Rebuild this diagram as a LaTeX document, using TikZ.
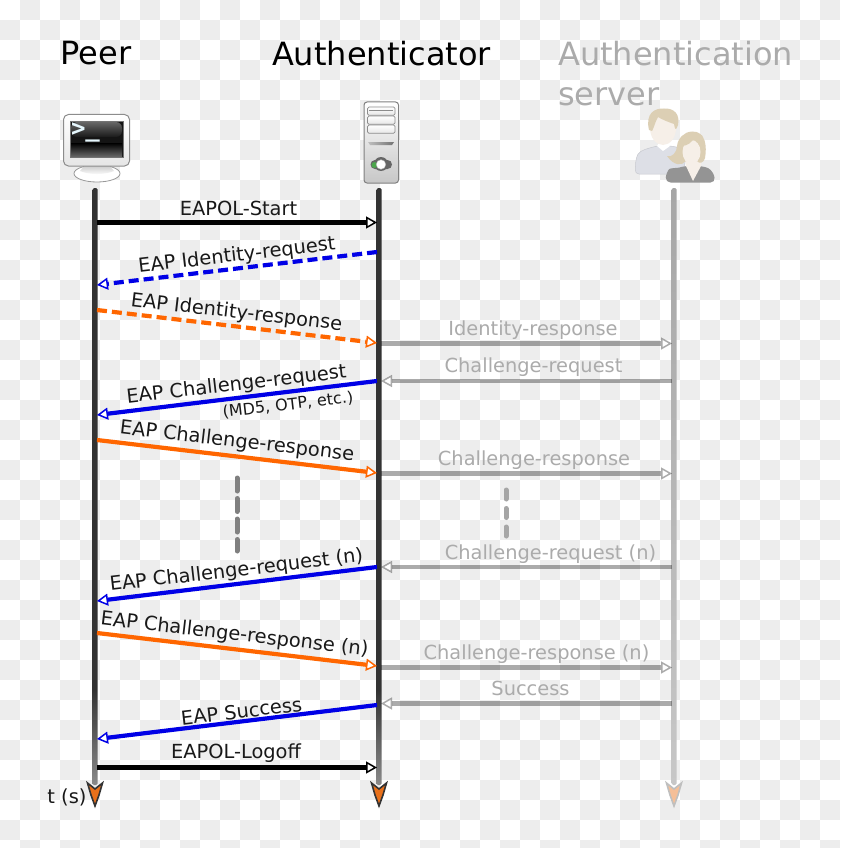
\documentclass[tikz,border=0pt]{standalone}
\usepackage{fontspec}
\setmainfont{DejaVu Sans}
\newfontfamily\termfont{DejaVu Sans Mono Bold}
\usetikzlibrary{arrows.meta,calc}
\definecolor{chk}{HTML}{EDEDED}
\definecolor{lifedark}{HTML}{333333}
\definecolor{lifemid}{HTML}{8A8A8A}
\definecolor{eapblue}{HTML}{0000E6}
\definecolor{eaporange}{HTML}{FF6600}
\definecolor{fadetext}{HTML}{ABABAB}
\definecolor{tipor}{HTML}{E8701A}
\definecolor{hairtan}{HTML}{DCCFB4}
\definecolor{skinpale}{HTML}{F6EFE8}
\definecolor{shirtpale}{HTML}{DDDFE6}
\pgfdeclareverticalshading{lifeline}{100bp}{color(0bp)=(lifemid); color(25bp)=(lifemid); color(33bp)=(lifedark); color(100bp)=(lifedark)}
\tikzset{
  x=1pt,y=-1pt,
  title/.style={font=\fontsize{32}{32}\selectfont,inner sep=0pt,text=black},
  msglabel/.style={font=\fontsize{19.4}{20}\selectfont,inner sep=0pt,text=black!90},
  fadelabel/.style={font=\fontsize{19.4}{20}\selectfont,inner sep=0pt,text=fadetext},
  smalllabel/.style={font=\fontsize{16}{16}\selectfont,inner sep=0pt,text=black!90},
  msg/.style={line width=4.2pt},
  head/.style={-{Triangle[open,fill=white,length=11pt,width=12pt,line width=1.5pt]}},
  blackmsg/.style={msg,head,draw=black},
  bluemsg/.style={msg,head,draw=eapblue},
  orangemsg/.style={msg,head,draw=eaporange},
  bluedash/.style={bluemsg,dash pattern=on 10pt off 5pt},
  orangedash/.style={orangemsg,dash pattern=on 10pt off 5pt},
  fademsg/.style={msg,head,draw=black,draw opacity=.33},
  waitdark/.style={line width=5pt,draw=black!50,line cap=round,dash pattern=on 13pt off 7.5pt},
  waitfade/.style={line width=5pt,draw=black!35,line cap=round,dash pattern=on 9pt off 9.5pt},
  endtip/.style={fill=tipor,draw=lifedark,line width=1.6pt,line join=miter},
}
\begin{document}
\begin{tikzpicture}
\useasboundingbox (0,0) rectangle (840,848);
\clip (0,0) rectangle (840,848);
% background
\fill[white] (0,0) rectangle (840,848);
\foreach \i in {0,...,41}{\foreach \j in {0,...,42}{
  \pgfmathtruncatemacro{\odd}{mod(\i+\j,2)}
  \ifnum\odd=1 \fill[chk] (20*\i,20*\j) rectangle ++(20,20);\fi
}}
% titles
\node[title] (tpeer) at (96,53) {Peer};
\node[title] (tauth) at (381.5,54) {Authenticator};
\node[title,text=fadetext,anchor=base west] (tserv1) at (558,65.5) {Authentication};
\node[title,text=fadetext,anchor=base west] (tserv2) at (558,106) {server};
% lifelines
\foreach \n/\x in {p/95,a/379}{
  \coordinate (\n top) at (\x,188);
  \coordinate (\n end) at (\x,806);
  \shade[shading=lifeline,rounded corners=1.5pt] (\x-2.5,188) rectangle (\x+2.5,785);
  \filldraw[endtip] (\x-7.5,783) -- (\x,789) -- (\x+7.5,783) -- (\x+4,795) -- (\x,806) -- (\x-4,795) -- cycle;
}
\coordinate (stop) at (674,188);
\coordinate (send) at (674,806);
\shade[top color=black!35,bottom color=black!22,rounded corners=1.5pt] (671.5,188) rectangle (676.5,785);
\filldraw[fill=tipor!45,draw=black!25,line width=1.6pt] (666.5,783) -- (674,789) -- (681.5,783) -- (678,795) -- (674,806) -- (670,795) -- cycle;
% monitor icon
\node[inner sep=0pt] (pc) at (97,150) {};
\filldraw[fill=white,draw=black!40,line width=.8pt] (97,173.5) ellipse (23 and 8.5);
\shade[top color=black!22,bottom color=white] (85,165) -- (109,165) -- (114,171) .. controls (105,175) and (89,175) .. (80,171) -- cycle;
\shade[top color=white,bottom color=black!10,draw=black!45,line width=1pt,rounded corners=5pt] (63.5,114.5) rectangle (129.5,166);
\fill[black!92] (70,121) rectangle (123,157);
\shade[top color=black!60,bottom color=black!90,rounded corners=6pt] (71,122) rectangle (122,137);
\shade[top color=black,bottom color=black!60] (71,143) rectangle (122,156.5);
\draw[black!55,line width=.6pt] (70,121) rectangle (123,157);
\node[font=\termfont\fontsize{24}{24}\selectfont,text=white!90!cyan,inner sep=0pt,anchor=base] (prompt) at (85.5,136.5) {>\_};
% server icon
\shade[top color=white,bottom color=black!22,draw=black!50,line width=1pt,rounded corners=3pt] (364,102) rectangle (398.5,183);
\foreach \y in {107,116,125}{
  \shade[top color=white,bottom color=black!10,draw=black!45,line width=.7pt,rounded corners=1.5pt] (367.5,\y) rectangle (395,\y+8.3);
}
\draw[black!45,line width=.8pt] (369,110.5) -- (393,110.5);
\shade[left color=black!25,right color=black!55] (368,142) -- (394,142) -- (392,145) -- (370,145) -- cycle;
\fill[black!60,rounded corners=4.5pt] (370.5,160) rectangle (392,169);
\fill[black!60] (381,164) circle (7);
\fill[green!50!black!70] (374.5,165) circle (3);
\filldraw[fill=white,draw=black!30] (381,164.5) circle (4.8);
% people icon
\filldraw[fill=shirtpale,draw=shirtpale!90!black,rounded corners=4pt,line width=.5pt] (635,174) -- (636,158) .. controls (640,150) and (650,148) .. (656,146) -- (672,146) .. controls (680,148) and (684,152) .. (686,160) -- (682,174) -- cycle;
\fill[white] (657,146) -- (663,151) -- (670,146) -- (668,143) -- (659,143) -- cycle;
\fill[skinpale] (663,128) ellipse (13 and 17);
\fill[hairtan] (649,130) .. controls (645,113) and (655,108) .. (664,108.5) .. controls (675,108) and (680,115) .. (678,125) .. controls (676,131) and (675,130) .. (674,124) .. controls (668,122) and (661,119) .. (658,117) .. controls (655,122) and (654,128) .. (652,131) -- cycle;
\fill[black!42,rounded corners=5pt] (665.5,182.5) -- (666,173) .. controls (670,168) and (678,168) .. (684,166) -- (702,166) .. controls (708,168) and (713,170) .. (715.5,182.5) -- cycle;
\fill[skinpale] (685,160) -- (701,160) -- (701,166) -- (693,181) -- (686,166) -- cycle;
\fill[hairtan] (692,131.5) .. controls (706,131) and (707,147) .. (705,158) .. controls (704,163) and (699,164) .. (697,161) -- (686,161) .. controls (682,166) and (674,166) .. (667,156) .. controls (672,158) and (677,152) .. (677,146) .. controls (678,138) and (684,132) .. (692,131.5) -- cycle;
\fill[skinpale] (691.5,152) ellipse (9 and 12);
\fill[hairtan] (681,146) .. controls (688,146) and (692,142) .. (695,137) .. controls (697,142) and (700,146) .. (702,148) -- (702,135) -- (684,135) -- cycle;
% connector ends
\coordinate (m1a) at (97,222.5);   \coordinate (m1b) at (377,222.5);
\coordinate (m2a) at (377,252);  \coordinate (m2b) at (97,285);
\coordinate (m3a) at (97,310);   \coordinate (m3b) at (377,343);
\coordinate (m4a) at (381,343.5);  \coordinate (m4b) at (672,343.5);
\coordinate (m5a) at (672,381);  \coordinate (m5b) at (381,381);
\coordinate (m6a) at (377,381);  \coordinate (m6b) at (97,415);
\coordinate (m7a) at (97,440);   \coordinate (m7b) at (377,473);
\coordinate (m8a) at (381,473.5);  \coordinate (m8b) at (672,473.5);
\coordinate (w1a) at (237,478);  \coordinate (w1b) at (237,551);
\coordinate (w2a) at (506,490);  \coordinate (w2b) at (506,538);
\coordinate (m9a) at (672,567);  \coordinate (m9b) at (381,567);
\coordinate (m10a) at (377,567); \coordinate (m10b) at (97,601);
\coordinate (m11a) at (97,633);  \coordinate (m11b) at (377,666);
\coordinate (m12a) at (381,667.5); \coordinate (m12b) at (672,667.5);
\coordinate (m13a) at (672,703.5); \coordinate (m13b) at (381,703.5);
\coordinate (m14a) at (377,705); \coordinate (m14b) at (97,739);
\coordinate (m15a) at (97,767.5);  \coordinate (m15b) at (377,767.5);
% connectors
\draw[blackmsg] (m1a) -- (m1b);
\draw[bluedash] (m2a) -- (m2b);
\draw[orangedash] (m3a) -- (m3b);
\draw[fademsg] (m4a) -- (m4b);
\draw[fademsg] (m5a) -- (m5b);
\draw[bluemsg] (m6a) -- (m6b);
\draw[orangemsg] (m7a) -- (m7b);
\draw[fademsg] (m8a) -- (m8b);
\draw[waitdark] (w1a) -- (w1b);
\draw[waitfade] (w2a) -- (w2b);
\draw[fademsg] (m9a) -- (m9b);
\draw[bluemsg] (m10a) -- (m10b);
\draw[orangemsg] (m11a) -- (m11b);
\draw[fademsg] (m12a) -- (m12b);
\draw[fademsg] (m13a) -- (m13b);
\draw[bluemsg] (m14a) -- (m14b);
\draw[blackmsg] (m15a) -- (m15b);
% labels
\node[msglabel] (l1) at (238.5,208) {EAPOL-Start};
\node[msglabel,rotate=6.6] (l2) at (237,256) {EAP Identity-request};
\node[msglabel,rotate=-6.6] (l3) at (236.5,313) {EAP Identity-response};
\node[fadelabel] (l4) at (533,330) {Identity-response};
\node[fadelabel] (l5) at (533.5,367.5) {Challenge-request};
\node[msglabel,rotate=6.6] (l6) at (236.5,385) {EAP Challenge-request};
\node[smalllabel,rotate=6.6] (l6b) at (288,405) {(MD5, OTP, etc.)};
\node[msglabel,rotate=-6.6] (l7) at (237,442) {EAP Challenge-response};
\node[fadelabel] (l8) at (534,460) {Challenge-response};
\node[fadelabel] (l9) at (550.5,554) {Challenge-request (n)};
\node[msglabel,rotate=6.6] (l10) at (236.5,571) {EAP Challenge-request (n)};
\node[msglabel,rotate=-6.6] (l11) at (234.5,635) {EAP Challenge-response (n)};
\node[fadelabel] (l12) at (536.5,654.5) {Challenge-response (n)};
\node[fadelabel] (l13) at (530.5,688) {Success};
\node[msglabel,rotate=6.6] (l14) at (241.5,711) {EAP Success};
\node[msglabel] (l15) at (236,753) {EAPOL-Logoff};
\node[msglabel] (ts) at (67,797) {t (s)};
\end{tikzpicture}
\end{document}
